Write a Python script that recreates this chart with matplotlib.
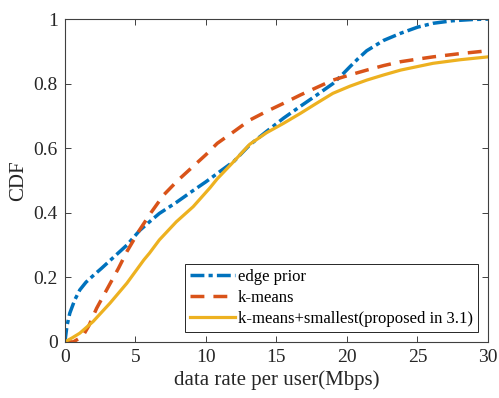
import numpy as np
import matplotlib
matplotlib.use('Agg')
import matplotlib.pyplot as plt

# values
x_edge = [0, 0.15, 0.35, 0.7, 1.06, 1.5, 2.0, 2.6, 3.2, 4.4, 5.3, 6.0, 6.7, 7.9, 9.0,
          10.0, 11.0, 12.0, 13.1, 14.3, 15.5, 16.7, 17.8, 19.0, 19.6, 20.2, 20.8,
          21.4, 22.6, 23.8, 25.0, 26.1, 27.5, 29.0, 30]
y_edge = [0, 0.05, 0.089, 0.13, 0.161, 0.185, 0.205, 0.228, 0.252, 0.30, 0.345,
          0.372, 0.398, 0.432, 0.466, 0.496, 0.528, 0.56, 0.61, 0.652, 0.693, 0.73,
          0.763, 0.80, 0.825, 0.852, 0.878, 0.902, 0.934, 0.956, 0.975, 0.987,
          0.995, 0.999, 1.0]

x_km = [0, 0.6, 1.06, 1.3, 1.7, 2.25, 2.96, 3.8, 4.4, 5.3, 6.1, 7.0, 8.0, 9.0,
        10.0, 10.8, 12.0, 13.1, 14.3, 15.5, 16.7, 17.8, 19.0, 20.2, 21.4, 22.6,
        23.8, 25.0, 26.1, 28.0, 30]
y_km = [0, 0.0, 0.012, 0.02, 0.05, 0.104, 0.161, 0.228, 0.28, 0.347, 0.40, 0.455,
        0.50, 0.54, 0.58, 0.615, 0.652, 0.687, 0.714, 0.739, 0.765, 0.787, 0.811,
        0.827, 0.842, 0.856, 0.868, 0.876, 0.883, 0.893, 0.902]

x_prop = [0, 0.5, 1.06, 2.0, 3.2, 4.4, 5.6, 6.0, 6.7, 7.9, 9.1, 10.3, 10.8, 12.0,
          13.1, 14.3, 15.5, 16.7, 17.8, 19.0, 20.2, 21.4, 22.6, 23.8, 25.0, 26.1,
          28.0, 30]
y_prop = [0, 0.012, 0.027, 0.063, 0.12, 0.182, 0.254, 0.275, 0.316, 0.372, 0.419,
          0.478, 0.505, 0.56, 0.612, 0.648, 0.677, 0.708, 0.738, 0.77, 0.792, 0.811,
          0.827, 0.842, 0.853, 0.863, 0.874, 0.883]

labels = ['edge prior', 'k-means', 'k-means+smallest(proposed in 3.1)']
xticks = [0, 5, 10, 15, 20, 25, 30]
yticks = [0, 0.2, 0.4, 0.6, 0.8, 1]

plt.rcParams['font.family'] = ['Liberation Serif', 'DejaVu Serif']

fig = plt.figure(figsize=(4.99, 3.98), dpi=100)
ax = fig.add_axes([0.130, 0.141, 0.848, 0.811])

ax.plot(x_edge, y_edge, color='#0072BD', lw=2.5, ls=(0, (4.0, 1.2, 1.2, 1.2)),
        label=labels[0])
ax.plot(x_km, y_km, color='#D95319', lw=2.5, ls=(0, (4.0, 2.6)), label=labels[1])
ax.plot(x_prop, y_prop, color='#EDB120', lw=2.3, ls='-', label=labels[2])

ax.set_xlim(0, 30)
ax.set_ylim(0, 1)
ax.set_xticks(xticks)
ax.set_xticklabels([str(t) for t in xticks])
ax.set_yticks(yticks)
ax.set_yticklabels(['0', '0.2', '0.4', '0.6', '0.8', '1'])
ax.tick_params(direction='in', top=True, right=True, length=4, width=0.7,
               color='#404040', labelsize=14, labelcolor='#262626', pad=5)
for s in ax.spines.values():
  s.set_color('#404040')
  s.set_linewidth(0.8)

ax.set_xlabel('data rate per user(Mbps)', fontsize=15, color='#262626', labelpad=3)
ax.set_ylabel('CDF', fontsize=15, color='#262626')

leg = ax.legend(loc='lower right', fontsize=12, handlelength=2.7,
                handletextpad=0.2, borderaxespad=0.6, borderpad=0.3,
                labelspacing=0.3, fancybox=False, framealpha=1)
leg.get_frame().set_edgecolor('#262626')
leg.get_frame().set_linewidth(0.7)

fig.savefig('out.png', dpi=100)
